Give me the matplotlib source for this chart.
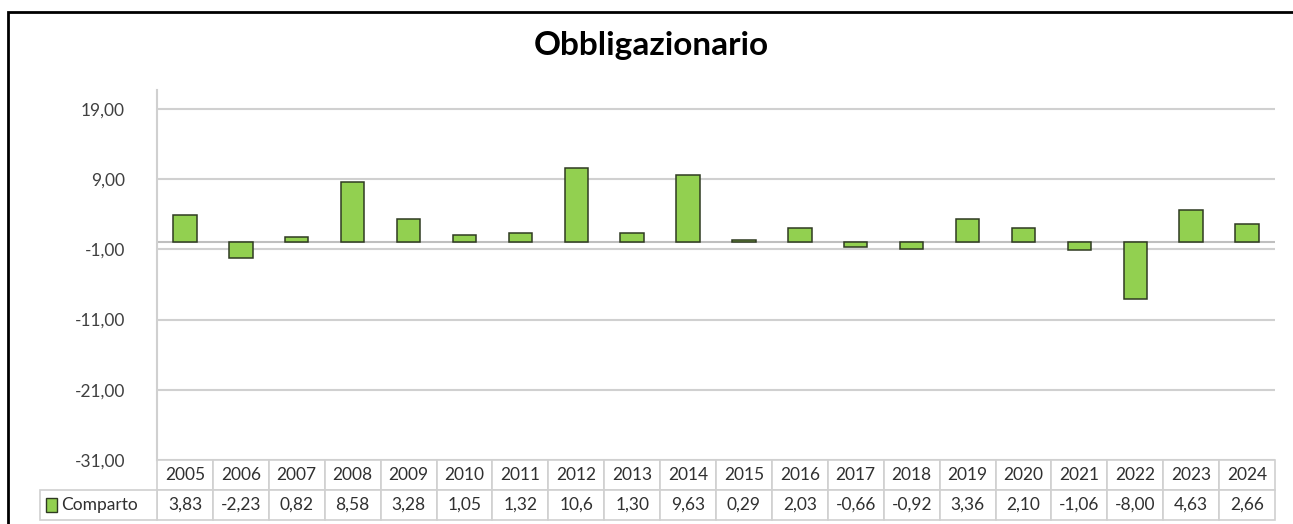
import matplotlib.pyplot as plt
import matplotlib.patches as patches
import matplotlib.transforms as mtransforms
import numpy as np

plt.rcParams['font.family'] = ['Lato', 'DejaVu Sans']

# Dati
anni = ['2005', '2006', '2007', '2008', '2009', '2010', '2011', '2012', '2013', '2014',
        '2015', '2016', '2017', '2018', '2019', '2020', '2021', '2022', '2023', '2024']
comparto = [3.83, -2.23, 0.82, 8.58, 3.28, 1.05, 1.32, 10.6, 1.30, 9.63,
            0.29, 2.03, -0.66, -0.92, 3.36, 2.10, -1.06, -8.00, 4.63, 2.66]
etichette = ['3,83', '-2,23', '0,82', '8,58', '3,28', '1,05', '1,32', '10,6', '1,30', '9,63',
             '0,29', '2,03', '-0,66', '-0,92', '3,36', '2,10', '-1,06', '-8,00', '4,63', '2,66']
y_ticks = [19, 9, -1, -11, -21, -31]
y_tick_labels = ['19,00', '9,00', '-1,00', '-11,00', '-21,00', '-31,00']

W, H = 1293, 524
fig = plt.figure(figsize=(W / 100, H / 100), dpi=100)
fig.patch.set_facecolor('white')

# cornice esterna
fig.add_artist(patches.Rectangle((8 / W, -0.1), 1.2, 1 - 12 / H + 0.1, transform=fig.transFigure,
                                 facecolor='none', edgecolor='black', linewidth=2))

ax = fig.add_axes([157 / W, 1 - 460 / H, (1275 - 157) / W, 370 / H])
x = np.arange(len(anni))
GRID = '#d0d0d0'
FS = 12.5

ax.bar(x, comparto, width=0.42, color='#92d050', edgecolor='#2f3a22', linewidth=1.1, zorder=3)
ax.axhline(0, color='#bfbfbf', linewidth=1.5, zorder=2)
ax.set_xlim(-0.5, len(anni) - 0.5)
ax.set_ylim(-31, 21.7)
ax.set_yticks(y_ticks)
ax.set_yticklabels(y_tick_labels, fontsize=FS, color='#404040')
ax.yaxis.grid(True, color=GRID, linewidth=1.5, zorder=0)
ax.tick_params(axis='y', length=0, pad=23)
ax.set_xticks([])
for s in ['top', 'right', 'bottom']:
    ax.spines[s].set_visible(False)
ax.spines['left'].set_color(GRID)
ax.spines['left'].set_linewidth(1.5)

# Tabella dati
tr = mtransforms.blended_transform_factory(ax.transData, ax.transAxes)
rh = 30 / 370
lw_t = 1.2
for i in range(len(anni)):
    for r, txt in enumerate([anni[i], etichette[i]]):
        y0 = -rh * (r + 1)
        ax.add_patch(patches.Rectangle((i - 0.5, y0), 1, rh, transform=tr, facecolor='white',
                                       edgecolor=GRID, linewidth=lw_t, clip_on=False))
        ax.text(i, y0 + rh / 2, txt, transform=tr, ha='center', va='center',
                fontsize=FS, color='#303030', clip_on=False)

x_lab = (40 - 157) / ((1275 - 157) / len(anni)) - 0.5
ax.add_patch(patches.Rectangle((x_lab, -2 * rh), -0.5 - x_lab, rh, transform=tr, facecolor='white',
                               edgecolor=GRID, linewidth=lw_t, clip_on=False))
ax.add_patch(patches.Rectangle((x_lab + 0.1, -1.5 * rh - 0.018), 0.2, 0.036, transform=tr,
                               facecolor='#92d050', edgecolor='#2f3a22', linewidth=1, clip_on=False))
ax.text(x_lab + 0.37, -1.5 * rh, 'Comparto', transform=tr, ha='left', va='center',
        fontsize=FS, color='#303030', clip_on=False)

fig.text(651 / W, 1 - 45 / H, 'Obbligazionario', ha='center', va='center',
         fontsize=24, fontweight='bold', color='black')

plt.savefig('out.png', dpi=100, facecolor='white')
plt.close()
